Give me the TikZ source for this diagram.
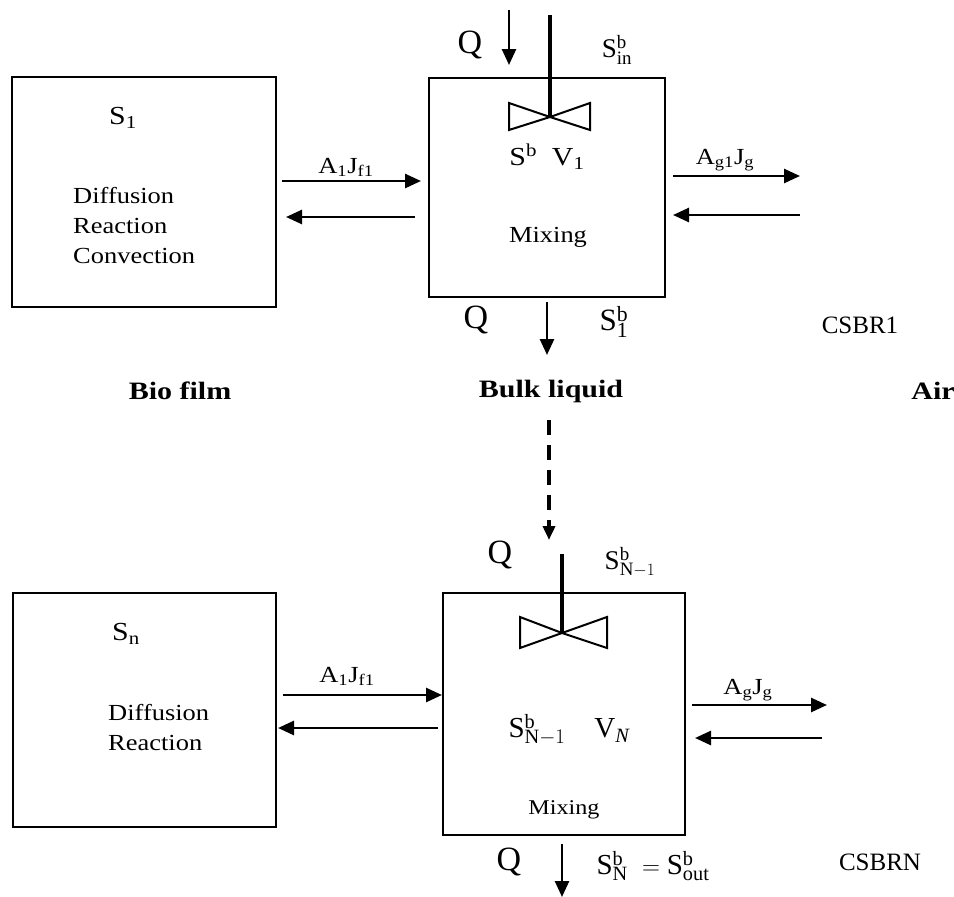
\documentclass[tikz,border=0pt]{standalone}
\usepackage{fontspec}
\setmainfont{Liberation Serif}
\usetikzlibrary{arrows.meta}
\newcommand\SB[1]{$\mathrm{S}^{\mathrm{b}}_{\mathrm{#1}}$}
\begin{document}
\begin{tikzpicture}[x=1pt,y=-1pt,
  box/.style={draw, line width=2pt, inner sep=0pt},
  txt/.style={font=\fontsize{23}{28}\selectfont, inner sep=0pt, xscale=1.15},
  big/.style={font=\fontsize{26}{30}\selectfont, inner sep=0pt, xscale=1.15},
  mtxt/.style={font=\fontsize{27}{32}\selectfont, inner sep=0pt},
  qtxt/.style={font=\fontsize{34}{40}\selectfont, inner sep=0pt},
  lbl/.style={font=\fontsize{25}{30}\selectfont\bfseries, inner sep=0pt, xscale=1.2},
  csbr/.style={font=\fontsize{25}{30}\selectfont, inner sep=0pt},
  arr/.style={line width=2.6pt, -{Triangle[length=16pt,width=14pt]}},
  shaft/.style={line width=4pt},
  blade/.style={draw, line width=2pt, line join=miter}
]
\useasboundingbox (0,0) rectangle (954,897);

% ---------------- top stage ----------------
\node[box, minimum width=264pt, minimum height=230pt] (lb1) at (144,192) {};
\node[box, minimum width=236pt, minimum height=219pt] (mb1) at (547,187.5) {};

\node[big] (s1) at (123,118) {S\textsubscript{1}};
\node[txt, anchor=base west] (d1) at (73,203) {Diffusion};
\node[txt, anchor=base west] (r1) at (73,233.5) {Reaction};
\node[txt, anchor=base west] (c1) at (73,263.5) {Convection};

\node[txt, anchor=base] (aj1) at (346,173) {A\textsubscript{1}J\textsubscript{f1}};
\coordinate (f1a) at (282,181);
\coordinate (f1b) at (421,181);
\coordinate (b1a) at (415,217);
\coordinate (b1b) at (286,217);
\draw[arr] (f1a) -- (f1b);
\draw[arr] (b1a) -- (b1b);

\node[txt, anchor=base] (ag1) at (725,164) {A\textsubscript{g1}J\textsubscript{g}};
\coordinate (g1a) at (673,176);
\coordinate (g1b) at (800,176);
\coordinate (h1a) at (800,215);
\coordinate (h1b) at (673,215);
\draw[arr] (g1a) -- (g1b);
\draw[arr] (h1a) -- (h1b);

\node[big] (sv1) at (547,157) {S\textsuperscript{b}\ \ V\textsubscript{1}};
\node[txt] (mx1) at (548,237) {Mixing};

\node[qtxt] (q1) at (470,45) {Q};
\coordinate (q1a) at (509,10);
\coordinate (q1b) at (509,65);
\draw[arr] (q1a) -- (q1b);
\node[mtxt] (sin) at (617,50) {\SB{in}};

\coordinate (sh1a) at (550,15);
\coordinate (sh1b) at (550,117);
\draw[shaft] (sh1a) -- (sh1b);
\draw[blade] (sh1b) -- (509,103) -- (509,130) -- cycle;
\draw[blade] (sh1b) -- (590,103) -- (590,130) -- cycle;

\node[qtxt] (q1o) at (476,320) {Q};
\coordinate (o1a) at (547,302);
\coordinate (o1b) at (547,355);
\draw[arr] (o1a) -- (o1b);
\node[font=\fontsize{31}{36}\selectfont, inner sep=0pt] (s1b) at (614,322) {\SB{1}};
\node[csbr] (csbr1) at (860,325) {CSBR1};

\node[lbl] (bio) at (180,391) {Bio film};
\node[lbl] (bulk) at (551,391) {Bulk liquid};
\node[lbl] (air) at (933,391) {Air};

\coordinate (da) at (549,420);
\coordinate (db) at (549,540);
\draw[line width=4.5pt, dash pattern=on 15pt off 10pt, -{Triangle[length=14pt,width=12pt]}] (da) -- (db);

% ---------------- N-th stage ----------------
\node[box, minimum width=263pt, minimum height=234pt] (lbN) at (144.5,710) {};
\node[box, minimum width=242pt, minimum height=242pt] (mbN) at (564,714) {};

\node[big] (sn) at (126,634) {S\textsubscript{n}};
\node[txt, anchor=base west] (dN) at (108,720) {Diffusion};
\node[txt, anchor=base west] (rN) at (108,750) {Reaction};

\node[txt, anchor=base] (ajN) at (347,682) {A\textsubscript{1}J\textsubscript{f1}};
\coordinate (fNa) at (283,695);
\coordinate (fNb) at (442,695);
\coordinate (bNa) at (438,728);
\coordinate (bNb) at (278,728);
\draw[arr] (fNa) -- (fNb);
\draw[arr] (bNa) -- (bNb);

\node[txt, anchor=base] (agN) at (748,694) {A\textsubscript{g}J\textsubscript{g}};
\coordinate (gNa) at (692,705);
\coordinate (gNb) at (827,705);
\coordinate (hNa) at (822,738);
\coordinate (hNb) at (695,738);
\draw[arr] (gNa) -- (gNb);
\draw[arr] (hNa) -- (hNb);

\node[qtxt] (qN) at (500,555) {Q};
\node[mtxt] (snm1) at (630,562) {$\mathrm{S}^{\mathrm{b}}_{\mathrm{N}-1}$};
\coordinate (shNa) at (562,554);
\coordinate (shNb) at (562,633);
\draw[shaft] (shNa) -- (shNb);
\draw[blade] (shNb) -- (520,617) -- (520,648) -- cycle;
\draw[blade] (shNb) -- (607,617) -- (607,648) -- cycle;

\node[font=\fontsize{29}{34}\selectfont, inner sep=0pt] (svN) at (569,730) {$\mathrm{S}^{\mathrm{b}}_{\mathrm{N}-1}$\quad V$_{\mathit{N}}$};
\node[txt, font=\fontsize{21}{25}\selectfont] (mxN) at (564,810) {Mixing};

\node[qtxt] (qNo) at (509,862) {Q};
\coordinate (oNa) at (562,844);
\coordinate (oNb) at (562,897);
\draw[arr] (oNa) -- (oNb);
\node[font=\fontsize{29}{34}\selectfont, inner sep=0pt] (sout) at (653,866) {$\mathrm{S}^{\mathrm{b}}_{\mathrm{N}}\ =\mathrm{S}^{\mathrm{b}}_{\mathrm{out}}$};
\node[csbr] (csbrN) at (880,862) {CSBRN};
\end{tikzpicture}
\end{document}
